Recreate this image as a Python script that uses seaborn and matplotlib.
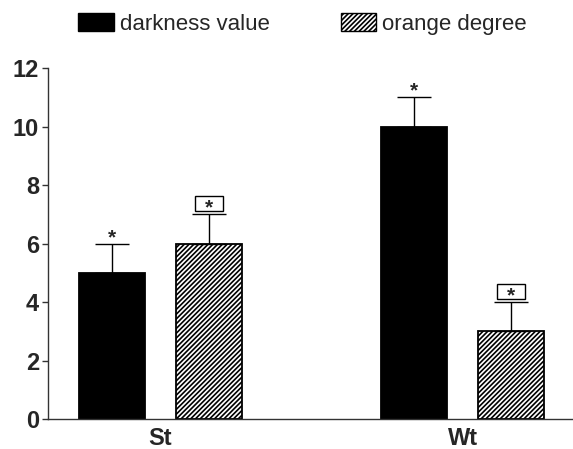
import matplotlib
matplotlib.use("Agg")
import matplotlib.pyplot as plt
from matplotlib.transforms import ScaledTranslation, offset_copy
import pandas as pd
import seaborn as sns

# data
groups = ["St", "St", "Wt", "Wt"]
measures = ["darkness value", "orange degree", "darkness value", "orange degree"]
values = [5, 6, 10, 3]
errors = [1, 1, 1, 1]
boxed = [False, True, False, True]
y_ticks = [0, 2, 4, 6, 8, 10, 12]

sns.set_style("ticks")
plt.rcParams["font.family"] = ["Liberation Sans", "DejaVu Sans"]
plt.rcParams["hatch.linewidth"] = 1.2

df = pd.DataFrame({"group": groups, "measure": measures, "value": values})

fig = plt.figure(figsize=(5.73, 4.49), dpi=100)
ax = fig.add_axes([48 / 573, 30 / 449, 1 - 48 / 573, 0.7817])

sns.barplot(data=df, x="group", y="value", hue="measure",
            palette={"darkness value": "black", "orange degree": "white"},
            width=0.642, gap=0.32, edgecolor="black", linewidth=1.3,
            errorbar=None, legend=False, ax=ax)

hatch = "///////"
for p in ax.containers[1]:
    p.set_hatch(hatch)

ax.set_xlim(-0.372, 1.364)
ax.set_ylim(0, 12)

# error bars and significance marks, placed from the drawn bars
bars = [ax.containers[0][0], ax.containers[1][0],
        ax.containers[0][1], ax.containers[1][1]]
for bar, err, box in zip(bars, errors, boxed):
    x = bar.get_x() + bar.get_width() / 2
    top = bar.get_height() + err
    ax.errorbar(x, bar.get_height(), yerr=[[0], [err]], fmt="none",
                ecolor="black", elinewidth=1.0, capsize=12.2, capthick=1.0,
                zorder=1)
    if box:
        # framed box just above the cap, size given in inches
        anchor = fig.dpi_scale_trans + ScaledTranslation(x, top, ax.transData)
        ax.add_patch(plt.Rectangle((-0.14, 0.03), 0.28, 0.155, fc="white",
                                   ec="black", lw=1.0, transform=anchor,
                                   clip_on=False, zorder=3))
    ax.text(x, top, "*", ha="center", va="baseline", fontsize=15,
            fontweight="bold", zorder=4,
            transform=offset_copy(ax.transData, fig, x=0, y=0.5, units="dots"))

ax.set_yticks(y_ticks)
ax.set_xlabel("")
ax.set_ylabel("")
sns.despine(ax=ax)
for side in ["left", "bottom"]:
    ax.spines[side].set_color("#333333")
    ax.spines[side].set_linewidth(1.0)
ax.tick_params(axis="y", length=4.3, width=1.0, color="#333333",
               pad=2, labelsize=17)
ax.tick_params(axis="x", length=0, pad=6, labelsize=17)
for lab in ax.get_xticklabels() + ax.get_yticklabels():
    lab.set_fontweight("bold")

handles = [plt.Rectangle((0, 0), 1, 1, fc="black", ec="black"),
           plt.Rectangle((0, 0), 1, 1, fc="white", ec="black", hatch=hatch)]
fig.legend(handles, ["darkness value", "orange degree"], ncol=2,
           loc="center left", bbox_to_anchor=(78 / 573, 1 - 24 / 449),
           frameon=False, fontsize=16, handlelength=1.6, handleheight=0.85,
           handletextpad=0.27, columnspacing=3.2, borderpad=0,
           borderaxespad=0)

fig.savefig("out.png", dpi=100)
